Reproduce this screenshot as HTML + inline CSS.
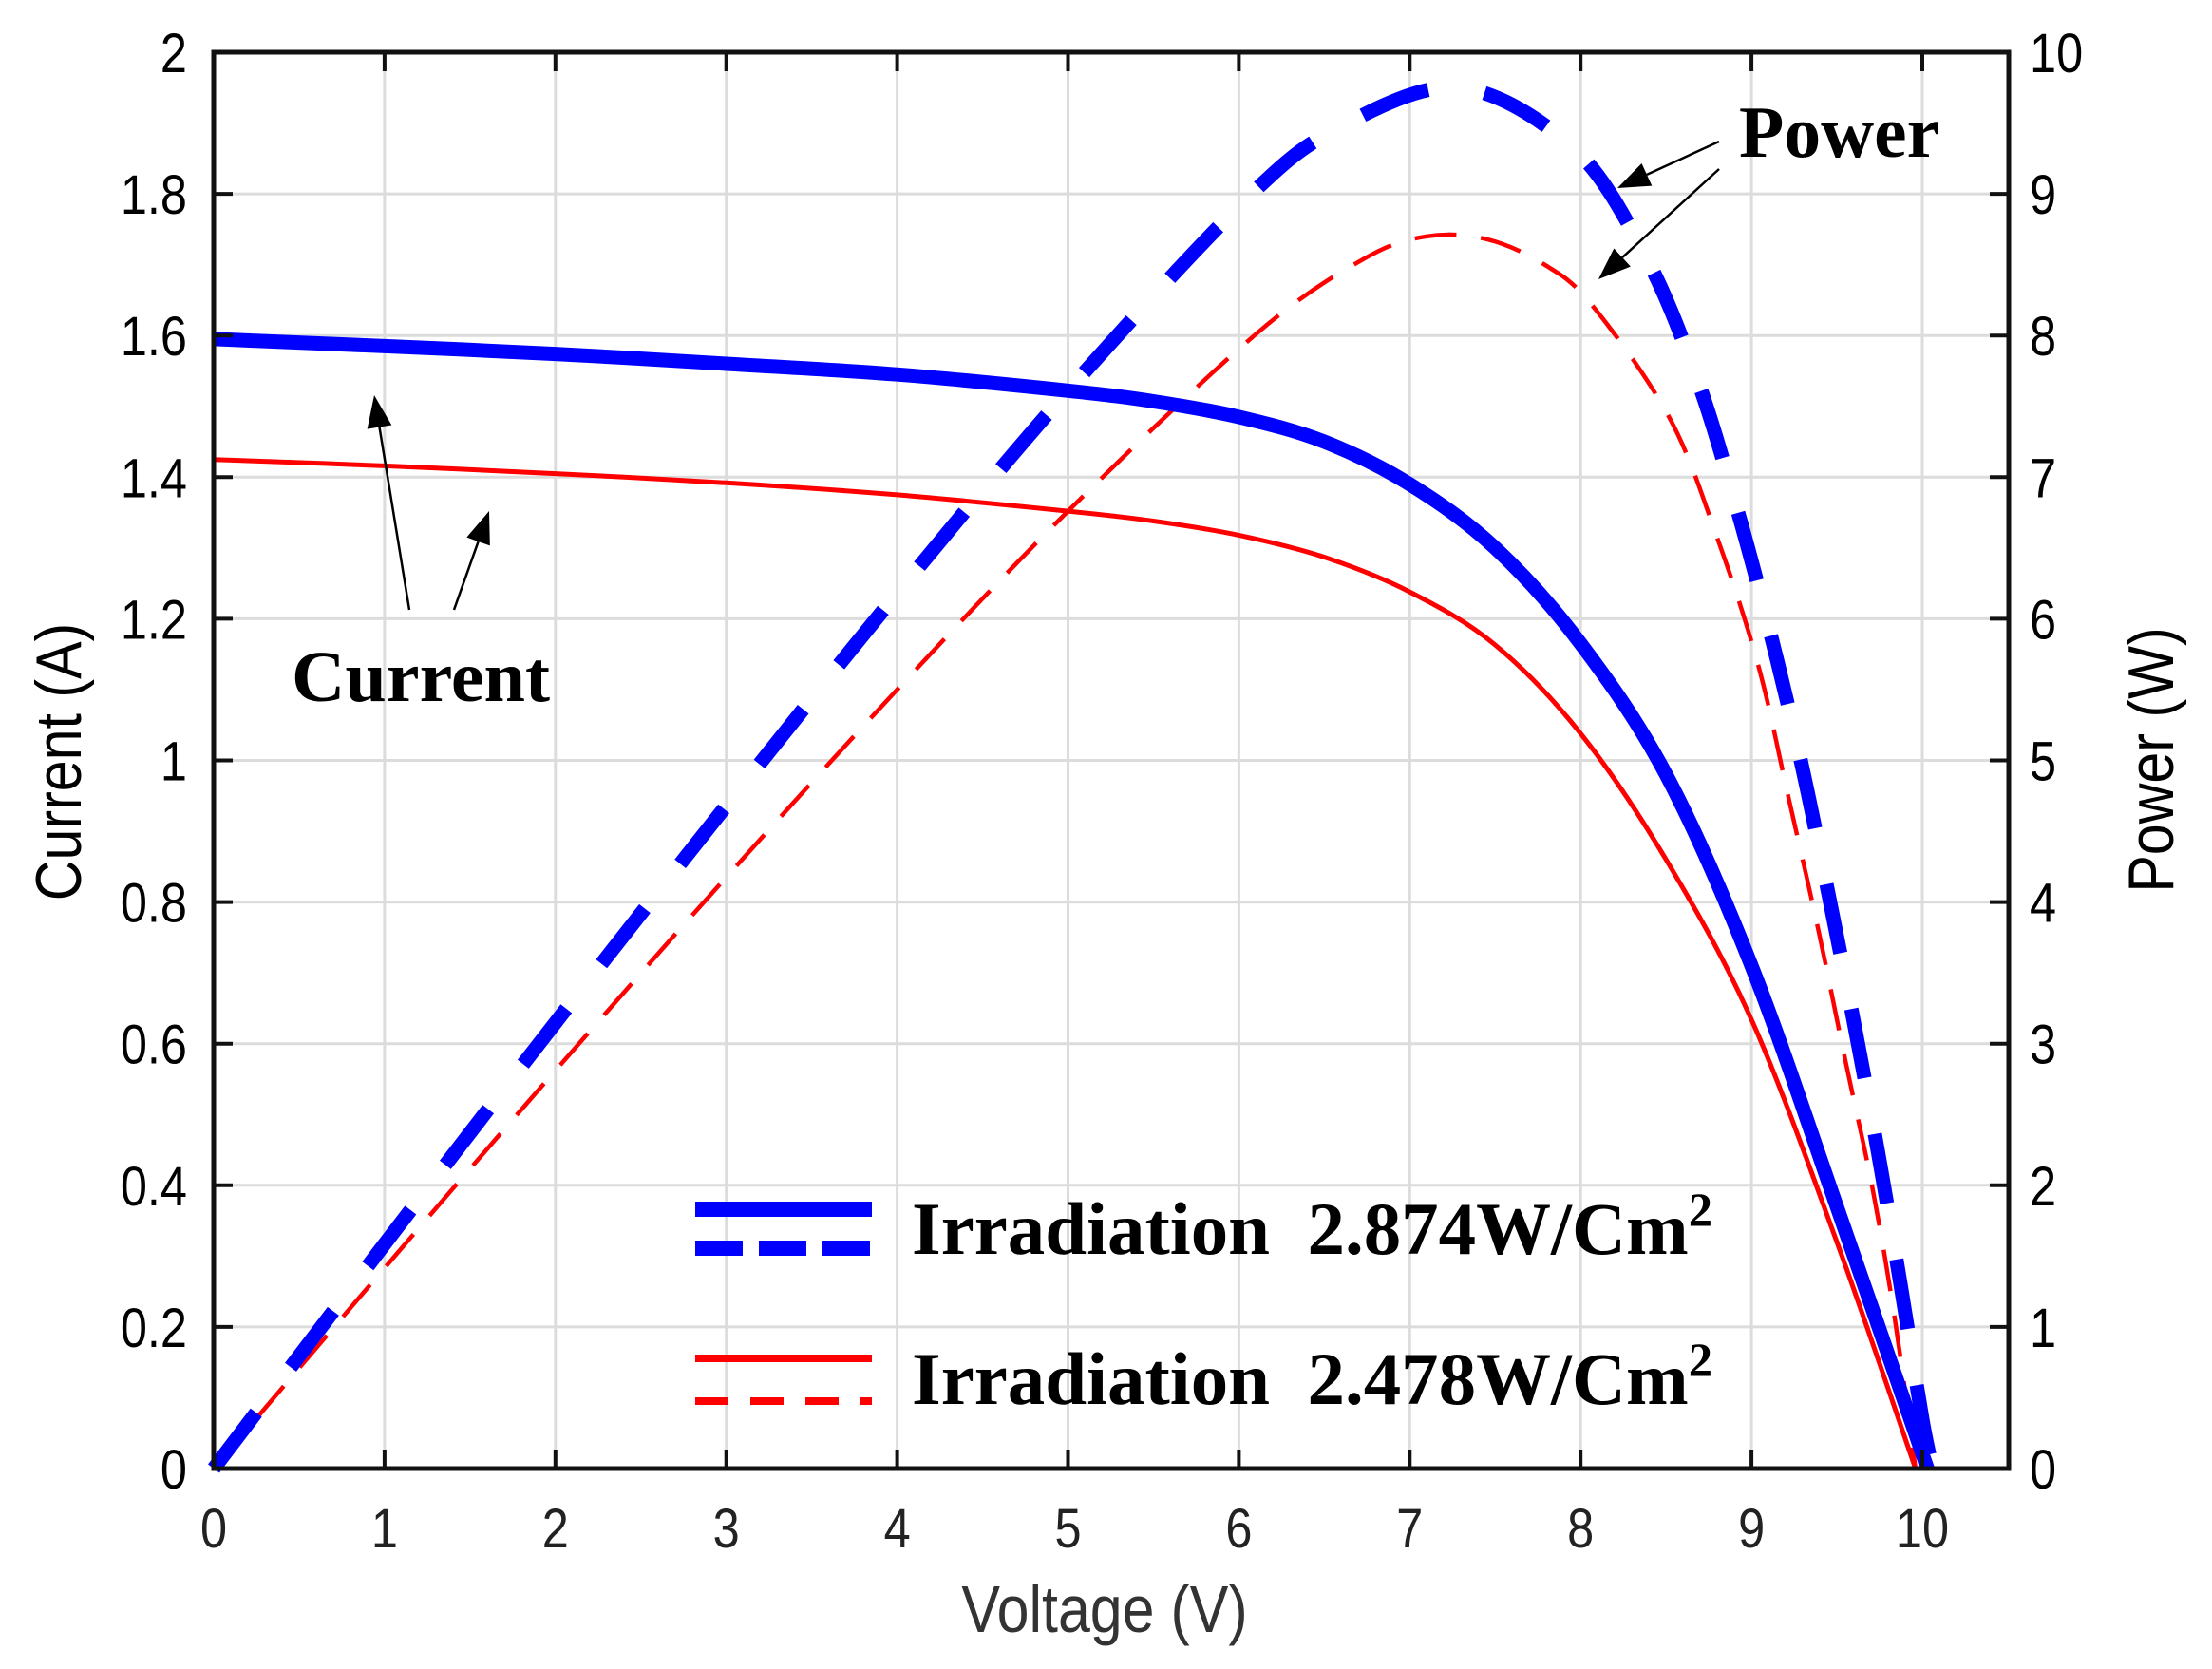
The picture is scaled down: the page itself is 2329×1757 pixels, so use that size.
<!DOCTYPE html>
<html><head><meta charset="utf-8"><style>
html,body{margin:0;padding:0;background:#fff;}
svg{display:block;}
</style></head><body>
<svg id="s" width="2329" height="1757" viewBox="0 0 2329 1757" xmlns="http://www.w3.org/2000/svg">
<g id="grid"></g>
<g id="series"></g>
<g id="axes"></g>
<g id="labels"></g>
</svg>
<script>
var NS="http://www.w3.org/2000/svg";
function el(p,n,a,txt){var e=document.createElementNS(NS,n);for(var k in a)e.setAttribute(k,a[k]);if(txt!==undefined)e.textContent=txt;document.getElementById(p).appendChild(e);return e;}
var SANS='font-family:"Liberation Sans",sans-serif;';
var SERIF='font-family:"Liberation Serif",serif;font-weight:bold;';
function txt(x,y,s,size,anchor,col,rot){
 var tr="translate("+x+","+y+")"+(rot?" rotate(-90)":"")+" scale(0.87,1)";
 return el("labels","text",{x:0,y:0,transform:tr,"text-anchor":anchor||"start",style:SANS+"font-size:"+size+"px;fill:"+(col||"#000")},s);}
var L=225,R=2115,T=55,B=1546,XS=179.9,YS=745.5,PS=149.1;
function X(v){return L+v*XS;}
function YI(i){return B-i*YS;}
function YP(p){return B-p*PS;}
for(var v=1;v<=10;v++)el("grid","line",{x1:X(v),x2:X(v),y1:T,y2:B,stroke:"#dcdcdc","stroke-width":3});
for(var i=1;i<10;i++){var y=B-i*(B-T)/10;el("grid","line",{x1:L,x2:R,y1:y,y2:y,stroke:"#dcdcdc","stroke-width":3});}
el("axes","rect",{x:L,y:T,width:R-L,height:B-T,fill:"none",stroke:"#111","stroke-width":5});
for(var v=0;v<=10;v++){el("axes","line",{x1:X(v),x2:X(v),y1:B,y2:B-20,stroke:"#111","stroke-width":4});el("axes","line",{x1:X(v),x2:X(v),y1:T,y2:T+20,stroke:"#111","stroke-width":4});
 txt(X(v),1629,String(v),58,"middle","#222");}
for(var i=0;i<=10;i++){var y=B-i*(B-T)/10;el("axes","line",{x1:L,x2:L+20,y1:y,y2:y,stroke:"#111","stroke-width":4});el("axes","line",{x1:R,x2:R-20,y1:y,y2:y,stroke:"#111","stroke-width":4});
 var lab=(i*0.2).toFixed(1).replace(/\.0$/,"");if(i==0)lab="0";
 txt(197,y+21,lab,58,"end");
 txt(2137,y+21,String(i),58,"start");}
txt(1163,1718,"Voltage (V)",70,"middle","#333");
txt(85,802,"Current (A)",68,"middle","#000",true);
txt(2288,800,"Power (W)",68,"middle","#000",true);
function path(pts,fy){var p=pts.map(function(q){return [X(q[0]),fy(q[1])];});var d="M"+p[0][0].toFixed(1)+","+p[0][1].toFixed(1);
 for(var k=0;k<p.length-1;k++){var p0=p[k-1]||p[k],p1=p[k],p2=p[k+1],p3=p[k+2]||p2;
  var c1x=p1[0]+(p2[0]-p0[0])/6,c1y=p1[1]+(p2[1]-p0[1])/6,c2x=p2[0]-(p3[0]-p1[0])/6,c2y=p2[1]-(p3[1]-p1[1])/6;
  d+=" C"+c1x.toFixed(1)+","+c1y.toFixed(1)+" "+c2x.toFixed(1)+","+c2y.toFixed(1)+" "+p2[0].toFixed(1)+","+p2[1].toFixed(1);}
 return d;}
var bI=[[0,1.595],[1,1.585],[2,1.574],[3,1.56],[4,1.545],[5,1.522],[5.5,1.507],[6,1.485],[6.5,1.45],[7.0,1.39],[7.5,1.30],[8.0,1.165],[8.5,0.98],[9.0,0.71],[9.5,0.37],[10.03,0]];
var rI=[[0,1.425],[1,1.416],[2,1.405],[3,1.392],[4,1.375],[5,1.352],[5.5,1.338],[6,1.318],[6.5,1.287],[7.0,1.238],[7.5,1.163],[8.0,1.038],[8.5,0.86],[9.0,0.634],[9.5,0.32],[9.96,0]];
var bP=[[0,0],[1,1.585],[2,3.148],[3,4.68],[4,6.18],[5,7.61],[6.04,8.96],[6.59,9.47],[7.29,9.75],[7.96,9.32],[8.38,8.56],[8.68,7.70],[8.91,6.80],[9.11,5.90],[9.29,4.99],[9.45,4.06],[9.6,3.15],[9.74,2.24],[9.87,1.32],[10.0,0.35],[10.06,0]];
var rP=[[0,0],[1,1.416],[2,2.81],[3,4.176],[4,5.5],[5,6.76],[6.10,8.01],[6.73,8.54],[7.10,8.70],[7.45,8.68],[7.79,8.50],[8.07,8.21],[8.52,7.42],[8.80,6.57],[9.04,5.67],[9.22,4.72],[9.39,3.81],[9.55,2.88],[9.71,1.97],[9.84,1.05],[9.96,0]];
el("series","path",{d:path(rI,YI),fill:"none",stroke:"#ff0000","stroke-width":5});
el("series","path",{d:path(rP,YP),fill:"none",stroke:"#ff0000","stroke-width":4.5,"stroke-dasharray":"44 26"});
el("series","path",{d:path(bI,YI),fill:"none",stroke:"#0000ff","stroke-width":15});
el("series","path",{d:path(bP,YP),fill:"none",stroke:"#0000ff","stroke-width":15,"stroke-dasharray":"74 60"});
el("series","line",{x1:732,x2:918,y1:1273,y2:1273,stroke:"#0000ff","stroke-width":16});
el("series","line",{x1:732,x2:918,y1:1314,y2:1314,stroke:"#0000ff","stroke-width":16,"stroke-dasharray":"50 17"});
el("series","line",{x1:732,x2:918,y1:1430,y2:1430,stroke:"#ff0000","stroke-width":8});
el("series","line",{x1:732,x2:918,y1:1475,y2:1475,stroke:"#ff0000","stroke-width":8,"stroke-dasharray":"35 23"});
var t1=el("labels","text",{x:960,y:1320,style:SERIF+"font-size:78px;fill:#000",textLength:"843",lengthAdjust:"spacingAndGlyphs"});
t1.innerHTML='Irradiation&#160; 2.874W/Cm<tspan style="font-size:50px" dy="-30">2</tspan>';
var t2=el("labels","text",{x:960,y:1478,style:SERIF+"font-size:78px;fill:#000",textLength:"843",lengthAdjust:"spacingAndGlyphs"});
t2.innerHTML='Irradiation&#160; 2.478W/Cm<tspan style="font-size:50px" dy="-30">2</tspan>';
el("labels","text",{x:307,y:738,style:SERIF+"font-size:76px;fill:#000",textLength:"272",lengthAdjust:"spacingAndGlyphs"},"Current");
el("labels","text",{x:1831,y:165,style:SERIF+"font-size:77px;fill:#000",textLength:"211",lengthAdjust:"spacingAndGlyphs"},"Power");
function arrow(x1,y1,x2,y2){var dx=x2-x1,dy=y2-y1,l=Math.sqrt(dx*dx+dy*dy),ux=dx/l,uy=dy/l,hl=34,hw=13;
 var bx=x2-ux*hl,by=y2-uy*hl;
 el("labels","line",{x1:x1,y1:y1,x2:bx,y2:by,stroke:"#000","stroke-width":2.5});
 el("labels","polygon",{points:x2+","+y2+" "+(bx-uy*hw)+","+(by+ux*hw)+" "+(bx+uy*hw)+","+(by-ux*hw),fill:"#000"});}
arrow(431,642,394,416);arrow(478,642,515,538);
arrow(1810,149,1703,198);arrow(1810,178,1683,294);
</script>
</body></html>
